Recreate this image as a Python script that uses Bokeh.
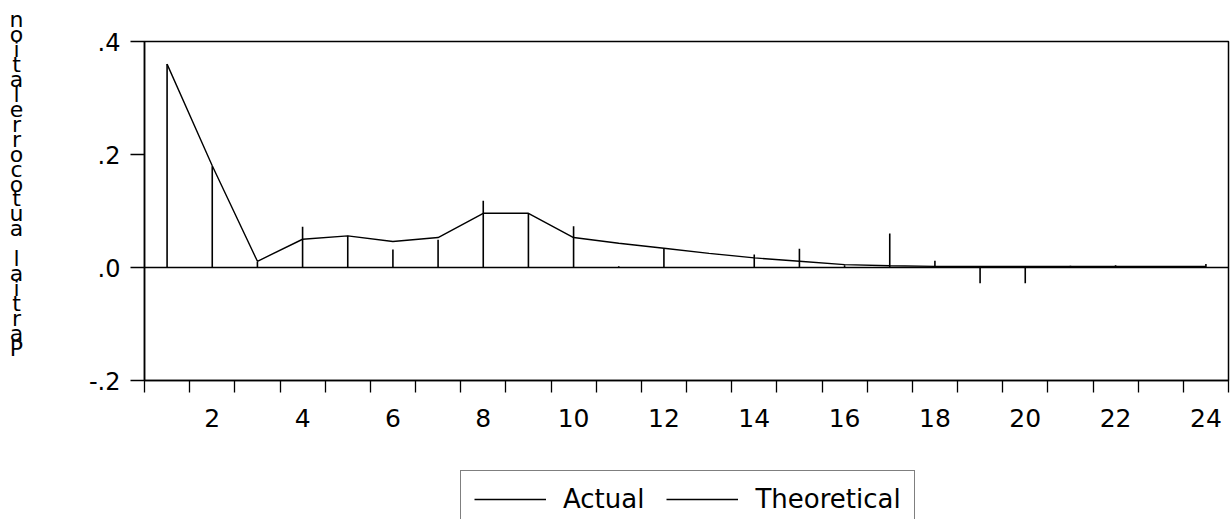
from bokeh.plotting import figure
from bokeh.layouts import row, column
from bokeh.models import (ColumnDataSource, FixedTicker, Span, Legend, LegendItem,
                          Range1d)
from bokeh.core.properties import value
from bokeh.embed import file_html
from bokeh.resources import INLINE

# ---- data ----
lags = list(range(1, 25))
actual = [0.360, 0.179, 0.010, 0.072, 0.056, 0.032, 0.049, 0.118, 0.096, 0.073,
          0.002, 0.033, 0.001, 0.023, 0.033, 0.004, 0.060, 0.012, -0.028, -0.028,
          0.003, 0.004, 0.001, 0.006]
theoretical = [0.360, 0.180, 0.011, 0.050, 0.056, 0.046, 0.053, 0.096, 0.096, 0.053,
               0.043, 0.034, 0.025, 0.017, 0.011, 0.005, 0.003, 0.002, 0.002, 0.002,
               0.002, 0.002, 0.002, 0.002]
y_ticks = [-0.2, 0.0, 0.2, 0.4]
y_tick_labels = ["-.2", ".0", ".2", ".4"]
x_label_ticks = [2, 4, 6, 8, 10, 12, 14, 16, 18, 20, 22, 24]
y_title = "Partial autocorrelation"
series_names = ["Actual", "Theoretical"]

FONT = "DejaVu Sans"
W, H = 1231, 519
TITLE_W = 40
MAIN_H = 460
LEG_H = H - MAIN_H

# ---- stacked vertical title (upright characters, read bottom to top) ----
chars = list(y_title[::-1])
first_c, last_c = 19.0, 348.0
step = (last_c - first_c) / (len(chars) - 1)
title_src = ColumnDataSource(dict(
    ch=chars,
    x=[16.0] * len(chars),
    y=[first_c + step * i for i in range(len(chars))]))
pt = figure(width=TITLE_W, height=H, output_backend="svg", toolbar_location=None,
            x_range=Range1d(0, TITLE_W), y_range=Range1d(H, 0),
            min_border=0, outline_line_color=None)
pt.axis.visible = False
pt.grid.visible = False
pt.text(x="x", y="y", text="ch", source=title_src, text_font=value(FONT),
        text_font_size=value("22px"), text_align="center", text_baseline="middle",
        text_color="black")

# ---- main chart ----
src = ColumnDataSource(dict(lag=lags, actual=actual, theo=theoretical,
                            zero=[0.0] * len(lags)))

p = figure(width=W - TITLE_W, height=MAIN_H, output_backend="svg",
           toolbar_location=None,
           x_range=Range1d(0.5, 24.5), y_range=Range1d(-0.2, 0.4),
           min_border_left=144 - TITLE_W, min_border_right=3, min_border_top=41,
           min_border_bottom=MAIN_H - 380)
p.background_fill_color = "white"
p.border_fill_color = "white"
p.outline_line_color = "black"
p.outline_line_width = 1.5
p.xgrid.visible = False
p.ygrid.visible = False

p.add_layout(Span(location=0, dimension="width", line_color="black", line_width=1.5))

r_act = p.segment(x0="lag", y0="zero", x1="lag", y1="actual", source=src,
                  line_color="black", line_width=1.6)
r_theo = p.line(x="lag", y="theo", source=src, line_color="black", line_width=1.4)

# x axis: labels on even lags, ticks between lags
half = [i + 0.5 for i in range(0, 25)]
p.xaxis.ticker = FixedTicker(ticks=x_label_ticks, minor_ticks=half)
p.xaxis.major_tick_out = 0
p.xaxis.major_tick_in = 0
p.xaxis.minor_tick_out = 12
p.xaxis.minor_tick_in = 0
p.xaxis.minor_tick_line_color = "black"
p.xaxis.minor_tick_line_width = 1.3
p.xaxis.axis_line_color = "black"
p.xaxis.axis_line_width = 1.5
p.xaxis.major_label_standoff = 16
p.xaxis.major_label_text_font = FONT
p.xaxis.major_label_text_font_size = "25px"
p.xaxis.major_label_text_color = "black"

# y axis
p.yaxis.ticker = FixedTicker(ticks=y_ticks, minor_ticks=[])
p.yaxis.major_label_overrides = {t: l for t, l in zip(y_ticks, y_tick_labels)}
p.yaxis.major_tick_out = 14
p.yaxis.major_tick_in = 0
p.yaxis.major_tick_line_color = "black"
p.yaxis.major_tick_line_width = 1.3
p.yaxis.minor_tick_out = 0
p.yaxis.axis_line_color = "black"
p.yaxis.axis_line_width = 1.5
p.yaxis.major_label_standoff = 10
p.yaxis.major_label_text_font = FONT
p.yaxis.major_label_text_font_size = "24px"
p.yaxis.major_label_text_color = "black"

# ---- legend strip under the chart ----
lf = figure(width=W - TITLE_W, height=LEG_H, output_backend="svg",
            toolbar_location=None, x_range=Range1d(0, 1), y_range=Range1d(0, 1),
            min_border=0, outline_line_color=None)
lf.axis.visible = False
lf.grid.visible = False
# legend key renderers (their points lie outside this strip's ranges)
l_act = lf.line(x=[-5, -4], y=[-5, -4], line_color="black", line_width=1.6)
l_theo = lf.line(x=[-5, -4], y=[-5, -4], line_color="black", line_width=1.4)
legend = Legend(items=[LegendItem(label=series_names[0], renderers=[l_act]),
                       LegendItem(label=series_names[1], renderers=[l_theo])],
                orientation="horizontal", location=(316, -9),
                label_text_font=FONT, label_text_font_size="26px",
                label_text_color="black", glyph_width=72, glyph_height=30,
                label_height=30, label_standoff=17, spacing=22, padding=13,
                border_line_color="black", border_line_width=1.5,
                background_fill_color="white", background_fill_alpha=1.0)
lf.add_layout(legend, "center")

layout = row(pt, column(p, lf, spacing=0), spacing=0)
open("out.html", "w").write(file_html(layout, INLINE))
